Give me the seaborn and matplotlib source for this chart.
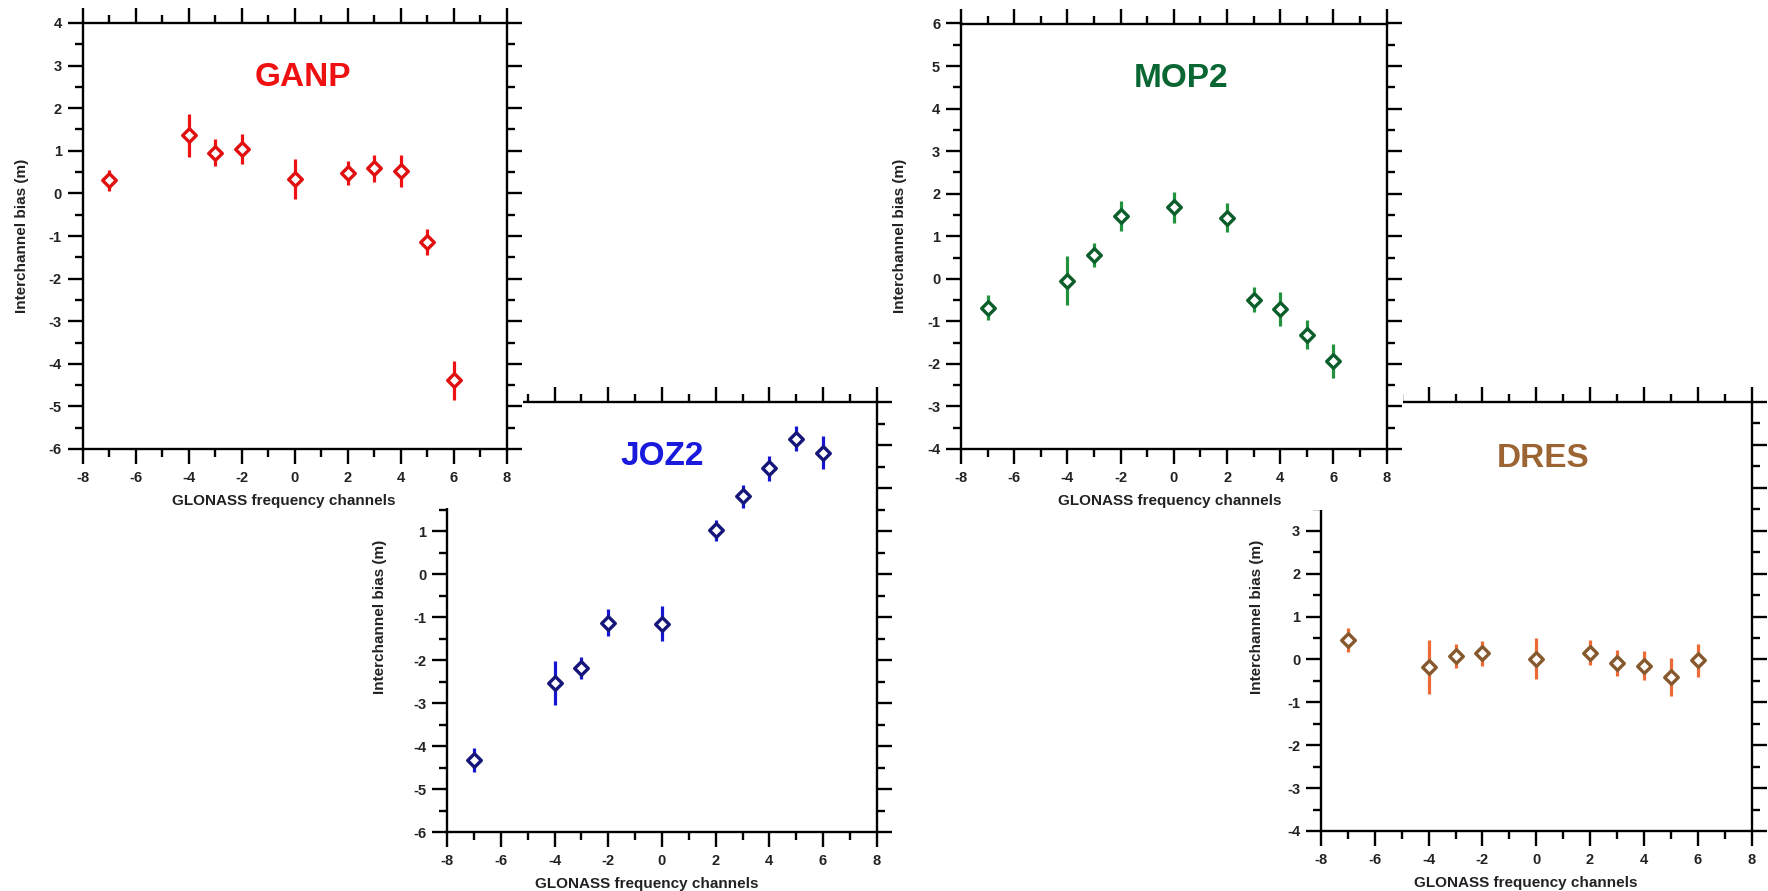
import matplotlib
matplotlib.use("Agg")
import numpy as np
import pandas as pd
import seaborn as sns
import matplotlib.pyplot as plt
from matplotlib.patches import Rectangle
from matplotlib.ticker import MultipleLocator

# ---------------- data ----------------
channels = [-7, -4, -3, -2, 0, 2, 3, 4, 5, 6]

ganp_bias = [0.31, 1.36, 0.96, 1.04, 0.34, 0.48, 0.59, 0.53, -1.14, -4.39]
ganp_err = [0.25, 0.50, 0.32, 0.35, 0.46, 0.29, 0.32, 0.38, 0.31, 0.45]

joz2_bias = [-4.33, -2.53, -2.19, -1.13, -1.15, 1.02, 1.81, 2.47, 3.15, 2.83]
joz2_err = [0.28, 0.51, 0.26, 0.31, 0.40, 0.25, 0.27, 0.29, 0.29, 0.39]

mop2_bias = [-0.68, -0.04, 0.56, 1.47, 1.68, 1.44, -0.49, -0.71, -1.31, -1.93]
mop2_err = [0.29, 0.57, 0.29, 0.35, 0.36, 0.34, 0.29, 0.39, 0.34, 0.40]

dres_bias = [0.45, -0.17, 0.08, 0.14, 0.02, 0.16, -0.09, -0.15, -0.41, -0.02]
dres_err = [0.28, 0.63, 0.29, 0.29, 0.48, 0.30, 0.30, 0.34, 0.45, 0.38]

station_names = ["GANP", "JOZ2", "MOP2", "DRES"]
x_label = "GLONASS frequency channels"
y_label = "Interchannel bias (m)"

# ---------------- style ----------------
sns.set_theme(style="ticks")
plt.rcParams["font.family"] = ["Liberation Sans", "DejaVu Sans"]
plt.rcParams["font.weight"] = "bold"
plt.rcParams["axes.unicode_minus"] = False

W, H = 1768, 891
fig = plt.figure(figsize=(W / 100, H / 100), dpi=100)
fig.patch.set_facecolor("white")


def px_rect(x0, x1, y0, y1):
    return [x0 / W, 1 - y1 / H, (x1 - x0) / W, (y1 - y0) / H]


def draw_panel(ax, bias, err, bar_c, edge_c, title, title_c, ylim,
               title_pos, xlab_x, ylab_off, box):
    x0, x1, y0, y1 = box
    wpx, hpx = x1 - x0, y1 - y0
    ax.set_facecolor("white")
    ax.errorbar(channels, bias, yerr=err, fmt="none", ecolor=bar_c,
                elinewidth=2.3, capsize=0, zorder=2)
    df = pd.DataFrame({"channel": channels, "bias": bias})
    sns.scatterplot(data=df, x="channel", y="bias", ax=ax, marker="D", s=48,
                    color="white", edgecolor=edge_c, linewidth=2.4,
                    zorder=3, legend=False)
    ax.set_xlim(-8, 8)
    ax.set_ylim(*ylim)
    ax.xaxis.set_major_locator(MultipleLocator(2))
    ax.xaxis.set_minor_locator(MultipleLocator(1))
    ax.yaxis.set_major_locator(MultipleLocator(1))
    ax.yaxis.set_minor_locator(MultipleLocator(0.5))
    ax.tick_params(which="both", direction="out", top=True, right=True,
                   width=1.7, color="black", labelcolor="#222222")
    ax.tick_params(which="major", length=11)
    ax.tick_params(which="minor", length=5.5)
    ax.tick_params(axis="x", pad=5, labelsize=10.5)
    ax.tick_params(axis="y", pad=4, labelsize=10.5)
    for lbl in ax.get_xticklabels() + ax.get_yticklabels():
        lbl.set_fontweight("bold")
    for s in ax.spines.values():
        s.set_linewidth(1.7)
        s.set_color("black")
        s.set_visible(True)
    ax.set_xlabel(x_label, fontsize=11, fontweight="bold", color="#222222",
                  va="center")
    ax.xaxis.set_label_coords(xlab_x, -52 / hpx)
    ax.set_ylabel(y_label, fontsize=11, fontweight="bold", color="#222222",
                  va="center")
    ax.yaxis.set_label_coords(-ylab_off / wpx, 0.5)
    ax.text(title_pos[0], title_pos[1], title, transform=ax.transAxes,
            ha="center", va="center", fontsize=24, fontweight="bold",
            color=title_c)


# pixel boxes of the axes (x0, x1, y0, y1)
box_ganp = (82.5, 506.7, 23, 449)
box_joz2 = (447.3, 876.7, 402.3, 832)
box_mop2 = (961, 1386.7, 23.5, 449)
box_dres = (1321, 1751.5, 402, 831)

# lower-layer panels
ax_joz2 = fig.add_axes(px_rect(*box_joz2), zorder=1)
draw_panel(ax_joz2, joz2_bias, joz2_err, "#1616D2", "#15157A", station_names[1],
           "#1A1ADD", (-6, 4), (0.50, 0.873), 0.464, 67, box_joz2)

ax_dres = fig.add_axes(px_rect(*box_dres), zorder=1)
draw_panel(ax_dres, dres_bias, dres_err, "#EC6A35", "#86582E", station_names[3],
           "#9C6433", (-4, 6), (0.516, 0.869), 0.476, 63.5, box_dres)

# white backgrounds of the upper panels' images
fig.add_artist(Rectangle((0, 1 - 508 / H), 523 / W, 508 / H,
                         transform=fig.transFigure, facecolor="white",
                         edgecolor="none", zorder=2))
fig.add_artist(Rectangle((895 / W, 1 - 510 / H), (1403 - 895) / W, 510 / H,
                         transform=fig.transFigure, facecolor="white",
                         edgecolor="none", zorder=2))

# upper-layer panels
ax_ganp = fig.add_axes(px_rect(*box_ganp), zorder=3)
draw_panel(ax_ganp, ganp_bias, ganp_err, "#F01212", "#E01010", station_names[0],
           "#EE1111", (-6, 4), (0.519, 0.871), 0.475, 60.5, box_ganp)

ax_mop2 = fig.add_axes(px_rect(*box_mop2), zorder=3)
draw_panel(ax_mop2, mop2_bias, mop2_err, "#22923F", "#0B5E2A", station_names[2],
           "#0A6632", (-4, 6), (0.516, 0.871), 0.49, 61, box_mop2)

fig.savefig("out.png", dpi=100, facecolor="white")
